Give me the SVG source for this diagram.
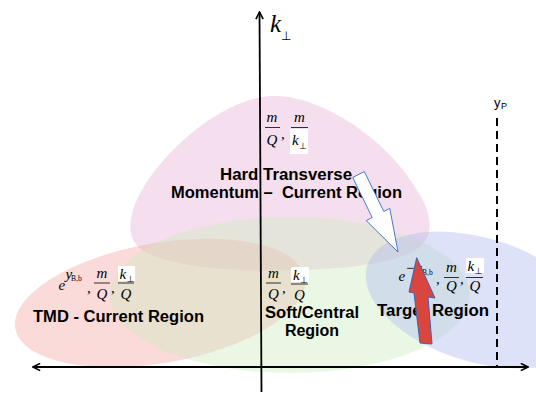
<svg xmlns="http://www.w3.org/2000/svg" width="536" height="394" viewBox="0 0 536 394">
<defs>
<style>
.lbl{font-family:"Liberation Sans",Arial,sans-serif;font-weight:bold;font-size:16px;fill:#000}
.mth{font-family:"Liberation Serif","Times New Roman",serif;font-style:italic;font-size:15px;fill:#000}
.sub{font-family:"DejaVu Sans","Liberation Sans",sans-serif;font-size:9px;fill:#000}
.rm{font-family:"Liberation Serif",serif;font-size:7.5px;fill:#000}
.bar{stroke:#000;stroke-width:0.8}
.reg{fill-opacity:0.42;stroke:none}
.ax{stroke:#000;stroke-width:1.8;fill:none}
</style>
<marker id="ah" viewBox="0 0 10 10" refX="9" refY="5" markerWidth="9" markerHeight="9" orient="auto-start-reverse" markerUnits="userSpaceOnUse">
<path d="M1,1 L9,5 L1,9" fill="none" stroke="#000" stroke-width="1.8"/>
</marker>
</defs>

<g id="hard-region">
<path class="reg" fill="#e8b0d6" d="M272,96 C320,94 390,140 420,195 C435,222 432,240 415,250 C395,262 360,268 300,270 C240,272 190,268 160,258 C132,250 126,235 133,210 C150,160 220,98 272,96 Z"/>
</g>
<g id="tmd-region">
<ellipse class="reg" fill="#f5a8a8" cx="160" cy="303" rx="147" ry="60" transform="rotate(-10 160 303)"/>
</g>
<g id="soft-region">
<ellipse class="reg" fill="#d0ebc0" cx="290" cy="295" rx="180" ry="78"/>
</g>
<g id="target-region">
<ellipse class="reg" fill="#afb9ee" cx="479" cy="300" rx="117" ry="62" transform="rotate(17 479 300)"/>
</g>

<g id="axes">
<line class="ax" x1="261.5" y1="392" x2="259.5" y2="12" marker-end="url(#ah)"/>
<line class="ax" x1="33" y1="367" x2="528" y2="367" marker-start="url(#ah)" marker-end="url(#ah)"/>
<line x1="497" y1="118" x2="497" y2="367" stroke="#000" stroke-width="2" stroke-dasharray="8,5"/>
<text x="270" y="32" font-family="Liberation Serif,serif" font-style="italic" font-size="25">k</text>
<text x="281" y="40" font-family="DejaVu Sans,sans-serif" font-size="12">⊥</text>
<text x="494" y="107" font-family="Liberation Sans,sans-serif" font-size="13">y</text>
<text x="501" y="109" font-family="Liberation Sans,sans-serif" font-size="9">P</text>
</g>

<g id="hard-label">
<text class="mth" x="272" y="122" text-anchor="middle">m</text>
<line class="bar" x1="265" y1="127.5" x2="280" y2="127.5"/>
<text class="mth" x="272" y="145" text-anchor="middle">Q</text>
<text class="mth" x="281" y="139">,</text>
<rect x="290" y="129" width="18" height="25" fill="#fff"/>
<text class="mth" x="299.5" y="122" text-anchor="middle">m</text>
<line class="bar" x1="291" y1="127.5" x2="308" y2="127.5"/>
<text class="mth" x="292" y="145">k</text>
<text class="sub" x="299" y="149">⊥</text>
<text class="lbl" x="220" y="180" textLength="132" lengthAdjust="spacingAndGlyphs">Hard Transverse</text>
<text class="lbl" x="171" y="197.5" textLength="231" lengthAdjust="spacingAndGlyphs" xml:space="preserve">Momentum –  Current Region</text>
</g>

<g id="tmd-label">
<text class="mth" x="58.5" y="290">e</text>
<text class="mth" x="65.5" y="279" font-size="11">y</text>
<text class="rm" x="71" y="281">B,b</text>
<text class="mth" x="87" y="293">,</text>
<text class="mth" x="102" y="277.5" text-anchor="middle">m</text>
<line class="bar" x1="94" y1="283" x2="110" y2="283"/>
<text class="mth" x="102" y="299" text-anchor="middle">Q</text>
<text class="mth" x="111" y="293">,</text>
<rect x="118" y="266" width="17" height="15" fill="#fff"/>
<text class="mth" x="119.5" y="279">k</text>
<text class="sub" x="126.5" y="282">⊥</text>
<line class="bar" x1="118" y1="283" x2="134" y2="283"/>
<text class="mth" x="126" y="299" text-anchor="middle">Q</text>
<text class="lbl" x="33" y="322" textLength="171" lengthAdjust="spacingAndGlyphs">TMD - Current Region</text>
</g>

<g id="soft-label">
<text class="mth" x="273.5" y="277.5" text-anchor="middle">m</text>
<line class="bar" x1="266" y1="283" x2="281" y2="283"/>
<text class="mth" x="273.5" y="299" text-anchor="middle">Q</text>
<text class="mth" x="282" y="293">,</text>
<rect x="291" y="267" width="18" height="15" fill="#fff"/>
<text class="mth" x="293" y="280">k</text>
<text class="sub" x="300" y="283">⊥</text>
<line class="bar" x1="291" y1="284" x2="308" y2="284"/>
<text class="mth" x="299.5" y="300" text-anchor="middle">Q</text>
<text class="lbl" x="265" y="318" textLength="94" lengthAdjust="spacingAndGlyphs">Soft/Central</text>
<text class="lbl" x="312" y="335.5" text-anchor="middle">Region</text>
</g>

<g id="target-label">
<text class="mth" x="398.5" y="281">e</text>
<text class="mth" x="405" y="273" font-size="11">−y</text>
<text class="rm" x="422" y="275">B,b</text>
<text class="mth" x="436" y="284">,</text>
<text class="mth" x="451.5" y="272" text-anchor="middle">m</text>
<line class="bar" x1="444" y1="277.5" x2="459" y2="277.5"/>
<text class="mth" x="451.5" y="291" text-anchor="middle">Q</text>
<text class="mth" x="460" y="284">,</text>
<rect x="466" y="258" width="18" height="15" fill="#fff"/>
<text class="mth" x="467.5" y="271">k</text>
<text class="sub" x="474.5" y="274">⊥</text>
<line class="bar" x1="466" y1="277.5" x2="483" y2="277.5"/>
<text class="mth" x="475" y="291" text-anchor="middle">Q</text>
<text class="lbl" x="377" y="316" textLength="112" lengthAdjust="spacingAndGlyphs">Target Region</text>
</g>

<g id="connectors">
<polygon points="352.7,177.5 364.3,171.5 383.8,211.5 389.8,208.4 398,252 366.2,220.6 372.2,217.5" fill="#fff" stroke="#4a78c8" stroke-width="1"/>
<polygon points="416.7,257.7 435,298 428,297 432,344 420,343 414,293 409,292" fill="#d9463d" stroke="#3d62b5" stroke-width="1"/>
</g>
</svg>
